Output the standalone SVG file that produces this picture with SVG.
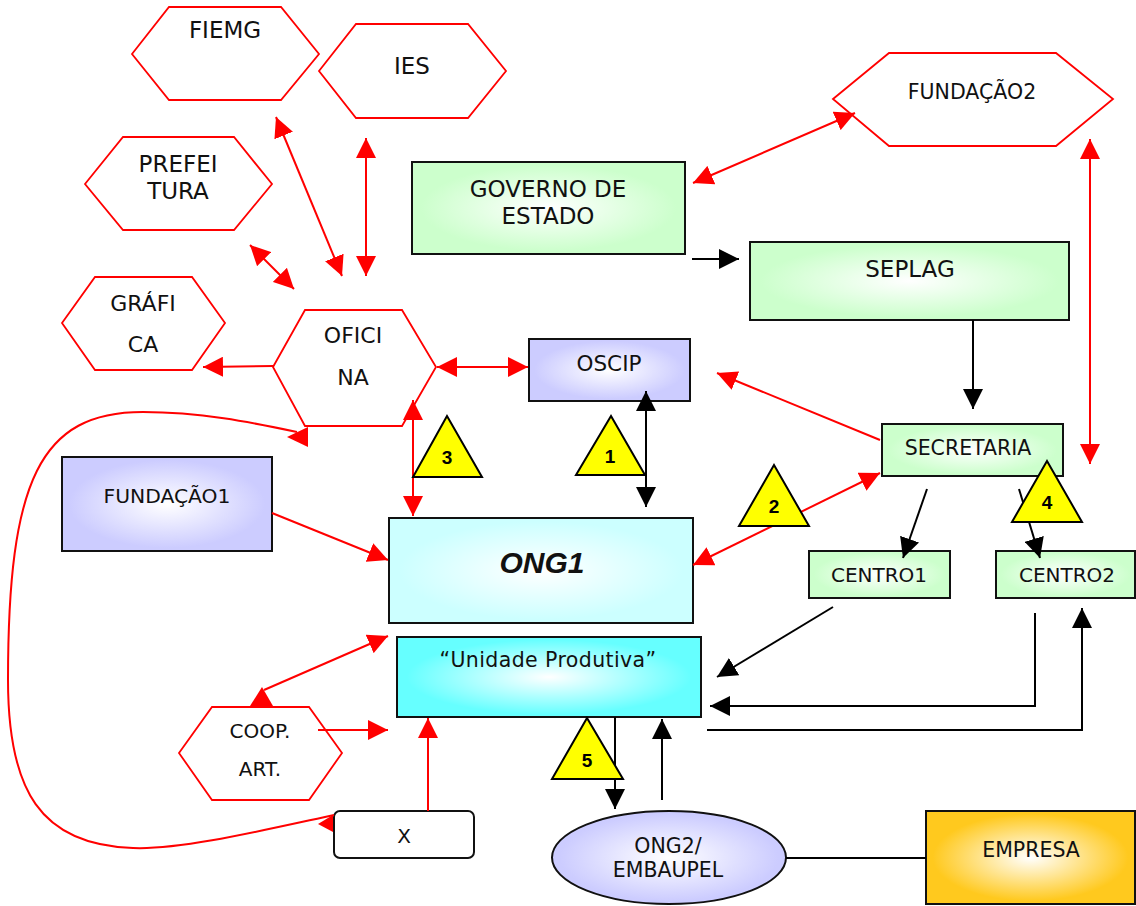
<svg xmlns="http://www.w3.org/2000/svg" width="1136" height="906" viewBox="0 0 1136 906">
  <defs>
    <style>
      .hex { fill: #ffffff; stroke: #ff0000; stroke-width: 1.8; }
      .box { stroke: #111111; stroke-width: 2; }
      .lbl { font-family: "DejaVu Sans", Verdana, sans-serif; fill: #111111; text-anchor: middle; }
      .red { fill: none; stroke: #ff0000; stroke-width: 2; }
      .blk { fill: none; stroke: #000000; stroke-width: 2; }
      .r2 { marker-start: url(#redHead); marker-end: url(#redHead); }
      .r1 { marker-end: url(#redHead); }
      .b2 { marker-start: url(#blkHead); marker-end: url(#blkHead); }
      .b1 { marker-end: url(#blkHead); }
      .tri { fill: #ffff00; stroke: #000000; stroke-width: 2; stroke-linejoin: miter; }
      .num { font-family: "Liberation Sans", Arial, sans-serif; font-weight: bold; font-size: 19px; text-anchor: middle; fill: #000000; }
    </style>
    <marker id="redHead" viewBox="0 0 20 20" refX="20" refY="10" markerWidth="20" markerHeight="20" markerUnits="userSpaceOnUse" orient="auto-start-reverse">
      <path d="M0,0 L20,10 L0,20 z" fill="#ff0000"/>
    </marker>
    <marker id="blkHead" viewBox="0 0 20 20" refX="20" refY="10" markerWidth="20" markerHeight="20" markerUnits="userSpaceOnUse" orient="auto-start-reverse">
      <path d="M0,0 L20,10 L0,20 z" fill="#000000"/>
    </marker>
    <radialGradient id="gGreen" cx="0.5" cy="0.5" r="0.55">
      <stop offset="0" stop-color="#ffffff"/>
      <stop offset="0.85" stop-color="#ccffcc"/>
    </radialGradient>
    <radialGradient id="gLav" cx="0.5" cy="0.5" r="0.55">
      <stop offset="0" stop-color="#ffffff"/>
      <stop offset="0.85" stop-color="#ccccff"/>
    </radialGradient>
    <radialGradient id="gAqua" cx="0.5" cy="0.5" r="0.55">
      <stop offset="0" stop-color="#ffffff"/>
      <stop offset="0.85" stop-color="#ccffff"/>
    </radialGradient>
    <radialGradient id="gCyan" cx="0.5" cy="0.5" r="0.55">
      <stop offset="0" stop-color="#ffffff"/>
      <stop offset="0.85" stop-color="#66ffff"/>
    </radialGradient>
    <radialGradient id="gGold" cx="0.5" cy="0.5" r="0.55">
      <stop offset="0" stop-color="#ffffff"/>
      <stop offset="0.85" stop-color="#ffc91e"/>
    </radialGradient>
  </defs>

  <rect width="1136" height="906" fill="#ffffff"/>

  <!-- hexagon partners -->
  <g id="fiemg">
    <polygon class="hex" points="132,54 169,7 281,7 319,54 281,100 169,100"/>
    <text class="lbl" x="225" y="38" font-size="23">FIEMG</text>
  </g>
  <g id="ies">
    <polygon class="hex" points="319,71 356,24 468,24 506,71 468,118 356,118"/>
    <text class="lbl" x="412" y="74" font-size="23">IES</text>
  </g>
  <g id="prefeitura">
    <polygon class="hex" points="85,184 123,137 234,137 272,184 234,230 123,230"/>
    <text class="lbl" x="178" y="172" font-size="23">PREFEI</text>
    <text class="lbl" x="178" y="199" font-size="23">TURA</text>
  </g>
  <g id="grafica">
    <polygon class="hex" points="62,323 95,277 192,277 225,323 192,370 95,370"/>
    <text class="lbl" x="143" y="311" font-size="22">GRÁFI</text>
    <text class="lbl" x="143" y="352" font-size="22">CA</text>
  </g>
  <g id="oficina">
    <polygon class="hex" points="273,367 305,310 402,310 436,367 402,426 305,426"/>
    <text class="lbl" x="353" y="343" font-size="22">OFICI</text>
    <text class="lbl" x="353" y="385" font-size="22">NA</text>
  </g>
  <g id="fundacao2">
    <polygon class="hex" points="833,99 889,53 1056,53 1113,99 1056,146 889,146"/>
    <text class="lbl" x="972" y="99" font-size="20.5">FUNDAÇÃO2</text>
  </g>
  <g id="coop">
    <polygon class="hex" points="179,753 212,707 309,707 342,753 309,800 212,800"/>
    <text class="lbl" x="260" y="738" font-size="20">COOP.</text>
    <text class="lbl" x="260" y="776" font-size="20">ART.</text>
  </g>

  <!-- boxes -->
  <g id="governo">
    <rect class="box" x="412" y="162" width="273" height="92" fill="url(#gGreen)"/>
    <text class="lbl" x="548" y="197" font-size="23">GOVERNO DE</text>
    <text class="lbl" x="548" y="224" font-size="23">ESTADO</text>
  </g>
  <g id="seplag">
    <rect class="box" x="750" y="242" width="319" height="78" fill="url(#gGreen)"/>
    <text class="lbl" x="910" y="277" font-size="23">SEPLAG</text>
  </g>
  <g id="oscip">
    <rect class="box" x="529" y="339" width="161" height="62" fill="url(#gLav)"/>
    <text class="lbl" x="609" y="371" font-size="21.5">OSCIP</text>
  </g>
  <g id="secretaria">
    <rect class="box" x="882" y="424" width="181" height="52" fill="url(#gGreen)"/>
    <text class="lbl" x="968" y="455" font-size="20.5">SECRETARIA</text>
  </g>
  <g id="fundacao1">
    <rect class="box" x="62" y="457" width="210" height="94" fill="url(#gLav)"/>
    <text class="lbl" x="167" y="503" font-size="20.3">FUNDAÇÃO1</text>
  </g>
  <g id="ong1">
    <rect class="box" x="389" y="518" width="304" height="105" fill="url(#gAqua)"/>
    <text x="542" y="573" font-family="Liberation Sans, Arial, sans-serif" font-weight="bold" font-style="italic" font-size="30" text-anchor="middle" fill="#111111">ONG1</text>
  </g>
  <g id="centro1">
    <rect class="box" x="809" y="551" width="141" height="47" fill="url(#gGreen)"/>
    <text class="lbl" x="879" y="582" font-size="20">CENTRO1</text>
  </g>
  <g id="centro2">
    <rect class="box" x="996" y="551" width="139" height="47" fill="url(#gGreen)"/>
    <text class="lbl" x="1067" y="582" font-size="20">CENTRO2</text>
  </g>
  <g id="unidade">
    <rect class="box" x="397" y="637" width="304" height="80" fill="url(#gCyan)"/>
    <text class="lbl" x="548" y="667" font-size="20.5" letter-spacing="0.4">“Unidade Produtiva”</text>
  </g>
  <g id="x">
    <rect class="box" x="334" y="811" width="140" height="47" rx="6" fill="#ffffff"/>
    <text class="lbl" x="404" y="843" font-size="20">X</text>
  </g>
  <g id="ong2">
    <ellipse class="box" cx="669" cy="857.5" rx="117" ry="46.5" fill="url(#gLav)"/>
    <text class="lbl" x="668" y="853" font-size="20.5">ONG2/</text>
    <text class="lbl" x="668" y="877" font-size="20.5">EMBAUPEL</text>
  </g>
  <g id="empresa">
    <rect class="box" x="926" y="811" width="209" height="93" fill="url(#gGold)"/>
    <text class="lbl" x="1031" y="857" font-size="20.5">EMPRESA</text>
  </g>

  <!-- connectors -->
  <g id="connectors">
    <!-- red relations -->
    <line class="red r2" x1="276" y1="117" x2="342" y2="276"/>
    <line class="red r2" x1="366" y1="138" x2="366" y2="276"/>
    <line class="red r2" x1="250" y1="245" x2="294" y2="289"/>
    <line class="red r2" x1="693" y1="183" x2="855" y2="113"/>
    <line class="red r2" x1="1090" y1="139" x2="1090" y2="464"/>
    <line class="red r2" x1="437" y1="367" x2="528" y2="367"/>
    <line class="red r2" x1="413" y1="400" x2="413" y2="516"/>
    <line class="red r2" x1="693" y1="565" x2="880" y2="473"/>
    <line class="red r1" x1="264" y1="690" x2="388" y2="636"/>
    <polygon points="250,706 262,687 273,706" fill="#ff0000"/>
    <line class="red r1" x1="273" y1="366" x2="203" y2="367"/>
    <line class="red r1" x1="880" y1="440" x2="717" y2="373"/>
    <line class="red r1" x1="272" y1="513" x2="388" y2="560"/>
    <line class="red r1" x1="318" y1="730" x2="388" y2="730"/>
    <line class="red r1" x1="428" y1="811" x2="428" y2="718"/>
    <!-- loop from X back up to OFICINA -->
    <path class="red" d="M334,815 C260,831 180,850 133,848 C40,845 8,790 8,680 C8,480 40,412 143,412 C200,412 250,422 297,432"/>
    <polygon points="287,437 308,427 308,447" fill="#ff0000"/>
    <polygon points="318,824 333,815 333,832" fill="#ff0000"/>

    <!-- black flows -->
    <line class="blk b1" x1="692" y1="259" x2="739" y2="259"/>
    <line class="blk b1" x1="973" y1="320" x2="973" y2="409"/>
    <line class="blk b2" x1="646" y1="391" x2="646" y2="507"/>
    <line class="blk b1" x1="927" y1="489" x2="903" y2="558"/>
    <line class="blk b1" x1="1019" y1="489" x2="1040" y2="558"/>
    <line class="blk b1" x1="833" y1="607" x2="717" y2="677"/>
    <polyline class="blk b1" points="1035,613 1035,706 710,706"/>
    <polyline class="blk b1" points="707,730 1082,730 1082,608"/>
    <line class="blk b1" x1="615" y1="717" x2="615" y2="809"/>
    <line class="blk b1" x1="662" y1="800" x2="662" y2="719"/>
    <line class="blk" x1="786" y1="858" x2="926" y2="858"/>
  </g>

  <!-- numbered markers -->
  <g id="mark1">
    <polygon class="tri" points="611,416 576,475 645,475"/>
    <text class="num" x="610" y="463">1</text>
  </g>
  <g id="mark2">
    <polygon class="tri" points="774,465 739,526 809,526"/>
    <text class="num" x="774" y="513">2</text>
  </g>
  <g id="mark3">
    <polygon class="tri" points="447,416 413,477 482,477"/>
    <text class="num" x="447" y="464">3</text>
  </g>
  <g id="mark4">
    <polygon class="tri" points="1047,461 1012,522 1082,522"/>
    <text class="num" x="1047" y="509">4</text>
  </g>
  <g id="mark5">
    <polygon class="tri" points="587,718 552,779 623,779"/>
    <text class="num" x="587" y="767">5</text>
  </g>
</svg>
